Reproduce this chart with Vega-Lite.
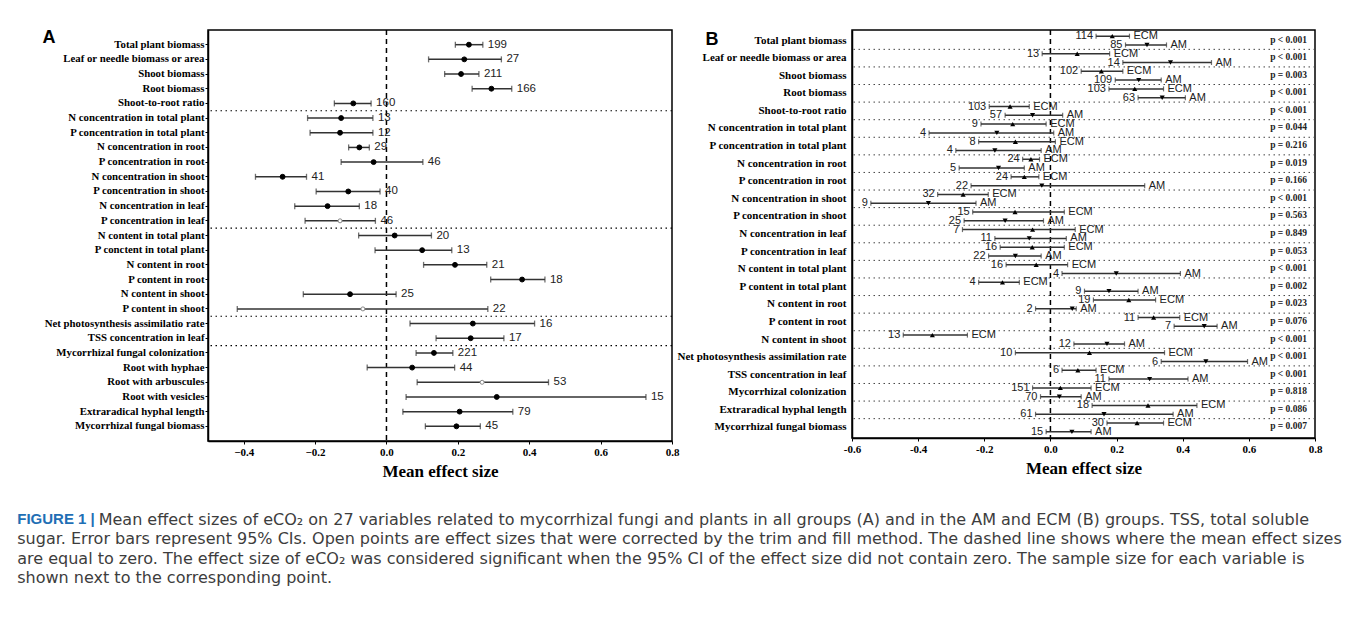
{
  "$schema": "https://vega.github.io/schema/vega-lite/v6.json",
  "background": "white",
  "padding": {"left": 17, "top": 27, "right": 0, "bottom": 0},
  "config": {
    "view": {"stroke": "black", "strokeWidth": 1.5},
    "axis": {"grid": false, "domainColor": "black", "tickColor": "black", "domainWidth": 1.5, "labelOverlap": false}
  },
  "title": {
    "text": "FIGURE 1 |",
    "subtitle": [
      "\u200b\u2007\u2007\u2007\u2007\u2007\u2007\u2007\u2007Mean effect sizes of eCO₂ on 27 variables related to mycorrhizal fungi and plants in all groups (A) and in the AM and ECM (B) groups. TSS, total soluble",
      "sugar. Error bars represent 95% CIs. Open points are effect sizes that were corrected by the trim and fill method. The dashed line shows where the mean effect sizes",
      "are equal to zero. The effect size of eCO₂ was considered significant when the 95% CI of the effect size did not contain zero. The sample size for each variable is",
      "shown next to the corresponding point."
    ],
    "orient": "bottom", "anchor": "start", "frame": "bounds",
    "dx": -24, "offset": 32,
    "font": "Liberation Sans", "fontSize": 15, "fontWeight": "bold", "color": "#1f6fb5",
    "subtitleFont": "DejaVu Sans", "subtitleFontSize": 16, "subtitleFontWeight": "normal", "subtitleColor": "#3d3d3d",
    "subtitleLineHeight": 19.4, "subtitlePadding": -15
  },
  "datasets": {
    "A": [
      {"variable": "Total plant biomass", "est": 0.231, "lo": 0.193, "hi": 0.270, "n": 199, "type": "filled"},
      {"variable": "Leaf or needle biomass or area", "est": 0.218, "lo": 0.118, "hi": 0.322, "n": 27, "type": "filled"},
      {"variable": "Shoot biomass", "est": 0.209, "lo": 0.163, "hi": 0.259, "n": 211, "type": "filled"},
      {"variable": "Root biomass", "est": 0.294, "lo": 0.240, "hi": 0.351, "n": 166, "type": "filled"},
      {"variable": "Shoot-to-root ratio", "est": -0.093, "lo": -0.146, "hi": -0.043, "n": 160, "type": "filled"},
      {"variable": "N concentration in total plant", "est": -0.127, "lo": -0.221, "hi": -0.038, "n": 13, "type": "filled"},
      {"variable": "P concentration in total plant", "est": -0.130, "lo": -0.214, "hi": -0.038, "n": 12, "type": "filled"},
      {"variable": "N concentration in root", "est": -0.076, "lo": -0.106, "hi": -0.048, "n": 29, "type": "filled"},
      {"variable": "P concentration in root", "est": -0.036, "lo": -0.127, "hi": 0.102, "n": 46, "type": "filled"},
      {"variable": "N concentration in shoot", "est": -0.291, "lo": -0.367, "hi": -0.224, "n": 41, "type": "filled"},
      {"variable": "P concentration in shoot", "est": -0.107, "lo": -0.197, "hi": -0.018, "n": 40, "type": "filled"},
      {"variable": "N concentration in leaf", "est": -0.165, "lo": -0.257, "hi": -0.076, "n": 18, "type": "filled"},
      {"variable": "P concentration in leaf", "est": -0.130, "lo": -0.228, "hi": -0.031, "n": 46, "type": "open"},
      {"variable": "N content in total plant", "est": 0.023, "lo": -0.078, "hi": 0.126, "n": 20, "type": "filled"},
      {"variable": "P conctent in total plant", "est": 0.100, "lo": -0.032, "hi": 0.183, "n": 13, "type": "filled"},
      {"variable": "N content in root", "est": 0.192, "lo": 0.104, "hi": 0.281, "n": 21, "type": "filled"},
      {"variable": "P content in root", "est": 0.380, "lo": 0.292, "hi": 0.444, "n": 18, "type": "filled"},
      {"variable": "N content in shoot", "est": -0.102, "lo": -0.233, "hi": 0.027, "n": 25, "type": "filled"},
      {"variable": "P content in shoot", "est": -0.066, "lo": -0.418, "hi": 0.284, "n": 22, "type": "open"},
      {"variable": "Net photosynthesis assimilatio rate", "est": 0.242, "lo": 0.066, "hi": 0.415, "n": 16, "type": "filled"},
      {"variable": "TSS concentration in leaf", "est": 0.236, "lo": 0.139, "hi": 0.329, "n": 17, "type": "filled"},
      {"variable": "Mycorrhizal fungal colonization", "est": 0.133, "lo": 0.083, "hi": 0.186, "n": 221, "type": "filled"},
      {"variable": "Root with hyphae", "est": 0.072, "lo": -0.054, "hi": 0.191, "n": 44, "type": "filled"},
      {"variable": "Root with arbuscules", "est": 0.268, "lo": 0.086, "hi": 0.454, "n": 53, "type": "open"},
      {"variable": "Root with vesicles", "est": 0.309, "lo": 0.055, "hi": 0.727, "n": 15, "type": "filled"},
      {"variable": "Extraradical hyphal length", "est": 0.205, "lo": 0.046, "hi": 0.354, "n": 79, "type": "filled"},
      {"variable": "Mycorrhizal fungal biomass", "est": 0.196, "lo": 0.109, "hi": 0.263, "n": 45, "type": "filled"}
    ],
    "sepA": [
      {"variable": "N concentration in total plant"},
      {"variable": "N content in total plant"},
      {"variable": "Net photosynthesis assimilatio rate"},
      {"variable": "Mycorrhizal fungal colonization"}
    ],
    "B": [
      {"variable": "Total plant biomass", "group": "ECM", "est": 0.187, "lo": 0.138, "hi": 0.239, "n": 114},
      {"variable": "Total plant biomass", "group": "AM", "est": 0.292, "lo": 0.227, "hi": 0.351, "n": 85},
      {"variable": "Leaf or needle biomass or area", "group": "ECM", "est": 0.081, "lo": -0.025, "hi": 0.179, "n": 13},
      {"variable": "Leaf or needle biomass or area", "group": "AM", "est": 0.363, "lo": 0.219, "hi": 0.487, "n": 14},
      {"variable": "Shoot biomass", "group": "ECM", "est": 0.154, "lo": 0.093, "hi": 0.219, "n": 102},
      {"variable": "Shoot biomass", "group": "AM", "est": 0.267, "lo": 0.196, "hi": 0.335, "n": 109},
      {"variable": "Root biomass", "group": "ECM", "est": 0.255, "lo": 0.177, "hi": 0.342, "n": 103},
      {"variable": "Root biomass", "group": "AM", "est": 0.338, "lo": 0.265, "hi": 0.408, "n": 63},
      {"variable": "Shoot-to-root ratio", "group": "ECM", "est": -0.122, "lo": -0.185, "hi": -0.064, "n": 103},
      {"variable": "Shoot-to-root ratio", "group": "AM", "est": -0.054, "lo": -0.137, "hi": 0.037, "n": 57},
      {"variable": "N concentration in total plant", "group": "ECM", "est": -0.114, "lo": -0.210, "hi": -0.013, "n": 9},
      {"variable": "N concentration in total plant", "group": "AM", "est": -0.162, "lo": -0.367, "hi": 0.010, "n": 4},
      {"variable": "P concentration in total plant", "group": "ECM", "est": -0.106, "lo": -0.217, "hi": 0.015, "n": 8},
      {"variable": "P concentration in total plant", "group": "AM", "est": -0.168, "lo": -0.286, "hi": -0.028, "n": 4},
      {"variable": "N concentration in root", "group": "ECM", "est": -0.059, "lo": -0.084, "hi": -0.033, "n": 24},
      {"variable": "N concentration in root", "group": "AM", "est": -0.157, "lo": -0.276, "hi": -0.079, "n": 5},
      {"variable": "P concentration in root", "group": "ECM", "est": -0.079, "lo": -0.119, "hi": -0.035, "n": 24},
      {"variable": "P concentration in root", "group": "AM", "est": -0.026, "lo": -0.240, "hi": 0.285, "n": 22},
      {"variable": "N concentration in shoot", "group": "ECM", "est": -0.264, "lo": -0.341, "hi": -0.188, "n": 32},
      {"variable": "N concentration in shoot", "group": "AM", "est": -0.369, "lo": -0.543, "hi": -0.225, "n": 9},
      {"variable": "P concentration in shoot", "group": "ECM", "est": -0.107, "lo": -0.235, "hi": 0.042, "n": 15},
      {"variable": "P concentration in shoot", "group": "AM", "est": -0.137, "lo": -0.261, "hi": -0.021, "n": 25},
      {"variable": "N concentration in leaf", "group": "ECM", "est": -0.054, "lo": -0.266, "hi": 0.075, "n": 7},
      {"variable": "N concentration in leaf", "group": "AM", "est": -0.064, "lo": -0.168, "hi": 0.048, "n": 11},
      {"variable": "P concentration in leaf", "group": "ECM", "est": -0.055, "lo": -0.152, "hi": 0.042, "n": 16},
      {"variable": "P concentration in leaf", "group": "AM", "est": -0.106, "lo": -0.187, "hi": -0.028, "n": 22},
      {"variable": "N content in total plant", "group": "ECM", "est": -0.043, "lo": -0.134, "hi": 0.052, "n": 16},
      {"variable": "N content in total plant", "group": "AM", "est": 0.199, "lo": 0.035, "hi": 0.393, "n": 4},
      {"variable": "P content in total plant", "group": "ECM", "est": -0.145, "lo": -0.217, "hi": -0.094, "n": 4},
      {"variable": "P content in total plant", "group": "AM", "est": 0.177, "lo": 0.103, "hi": 0.265, "n": 9},
      {"variable": "N content in root", "group": "ECM", "est": 0.237, "lo": 0.130, "hi": 0.318, "n": 19},
      {"variable": "N content in root", "group": "AM", "est": 0.066, "lo": -0.045, "hi": 0.078, "n": 2},
      {"variable": "P content in root", "group": "ECM", "est": 0.312, "lo": 0.265, "hi": 0.391, "n": 11},
      {"variable": "P content in root", "group": "AM", "est": 0.465, "lo": 0.374, "hi": 0.504, "n": 7},
      {"variable": "N content in shoot", "group": "ECM", "est": -0.357, "lo": -0.445, "hi": -0.251, "n": 13},
      {"variable": "N content in shoot", "group": "AM", "est": 0.171, "lo": 0.071, "hi": 0.224, "n": 12},
      {"variable": "Net photosynthesis assimilation rate", "group": "ECM", "est": 0.118, "lo": -0.106, "hi": 0.345, "n": 10},
      {"variable": "Net photosynthesis assimilation rate", "group": "AM", "est": 0.470, "lo": 0.335, "hi": 0.596, "n": 6},
      {"variable": "TSS concentration in leaf", "group": "ECM", "est": 0.083, "lo": 0.035, "hi": 0.138, "n": 6},
      {"variable": "TSS concentration in leaf", "group": "AM", "est": 0.300, "lo": 0.177, "hi": 0.416, "n": 11},
      {"variable": "Mycorrhizal colonization", "group": "ECM", "est": 0.030, "lo": -0.054, "hi": 0.123, "n": 151},
      {"variable": "Mycorrhizal colonization", "group": "AM", "est": 0.027, "lo": -0.030, "hi": 0.093, "n": 70},
      {"variable": "Extraradical hyphal length", "group": "ECM", "est": 0.295, "lo": 0.126, "hi": 0.443, "n": 18},
      {"variable": "Extraradical hyphal length", "group": "AM", "est": 0.162, "lo": -0.045, "hi": 0.371, "n": 61},
      {"variable": "Mycorrhizal fungal biomass", "group": "ECM", "est": 0.262, "lo": 0.171, "hi": 0.342, "n": 30},
      {"variable": "Mycorrhizal fungal biomass", "group": "AM", "est": 0.065, "lo": -0.013, "hi": 0.123, "n": 15}
    ],
    "pB": [
      {"variable": "Total plant biomass", "p": "p < 0.001"},
      {"variable": "Leaf or needle biomass or area", "p": "p < 0.001"},
      {"variable": "Shoot biomass", "p": "p = 0.003"},
      {"variable": "Root biomass", "p": "p < 0.001"},
      {"variable": "Shoot-to-root ratio", "p": "p < 0.001"},
      {"variable": "N concentration in total plant", "p": "p = 0.044"},
      {"variable": "P concentration in total plant", "p": "p = 0.216"},
      {"variable": "N concentration in root", "p": "p = 0.019"},
      {"variable": "P concentration in root", "p": "p = 0.166"},
      {"variable": "N concentration in shoot", "p": "p < 0.001"},
      {"variable": "P concentration in shoot", "p": "p = 0.563"},
      {"variable": "N concentration in leaf", "p": "p = 0.849"},
      {"variable": "P concentration in leaf", "p": "p = 0.053"},
      {"variable": "N content in total plant", "p": "p < 0.001"},
      {"variable": "P content in total plant", "p": "p = 0.002"},
      {"variable": "N content in root", "p": "p = 0.023"},
      {"variable": "P content in root", "p": "p = 0.076"},
      {"variable": "N content in shoot", "p": "p < 0.001"},
      {"variable": "Net photosynthesis assimilation rate", "p": "p < 0.001"},
      {"variable": "TSS concentration in leaf", "p": "p < 0.001"},
      {"variable": "Mycorrhizal colonization", "p": "p = 0.818"},
      {"variable": "Extraradical hyphal length", "p": "p = 0.086"},
      {"variable": "Mycorrhizal fungal biomass", "p": "p = 0.007"}
    ]
  },
  "spacing": 180,
  "bounds": "flush",
  "hconcat": [
    {
      "width": 464,
      "height": 411,
      "data": {"name": "A"},
      "layer": [
        {
          "data": {"name": "sepA"},
          "mark": {"type": "rule", "color": "black", "strokeWidth": 1.2, "strokeDash": [1.5, 3.5]},
          "encoding": {"y": {"field": "variable", "type": "nominal", "bandPosition": 0}}
        },
        {
          "data": {"values": [{"zero": 0}]},
          "mark": {"type": "rule", "color": "black", "strokeWidth": 1.5, "strokeDash": [5, 4]},
          "encoding": {"x": {"field": "zero", "type": "quantitative"}}
        },
        {
          "mark": {"type": "rule", "color": "#333", "strokeWidth": 1.5},
          "encoding": {
            "x": {
              "field": "lo", "type": "quantitative",
              "scale": {"domain": [-0.5, 0.8], "nice": false, "zero": false},
              "axis": {
                "title": "Mean effect size",
                "values": [-0.4, -0.2, 0, 0.2, 0.4, 0.6, 0.8],
                "format": ".1f",
                "labelOverlap": false, "labelBound": false,
                "tickSize": 3, "labelPadding": 2, "labelFlush": false,
                "labelFont": "Liberation Serif", "labelFontWeight": "bold", "labelFontSize": 11, "labelColor": "black",
                "titleFont": "Liberation Serif", "titleFontWeight": "bold", "titleFontSize": 17, "titleColor": "black", "titlePadding": 6
              }
            },
            "x2": {"field": "hi"},
            "y": {
              "field": "variable", "type": "nominal",
              "scale": {
                "domain": ["Total plant biomass", "Leaf or needle biomass or area", "Shoot biomass", "Root biomass", "Shoot-to-root ratio", "N concentration in total plant", "P concentration in total plant", "N concentration in root", "P concentration in root", "N concentration in shoot", "P concentration in shoot", "N concentration in leaf", "P concentration in leaf", "N content in total plant", "P conctent in total plant", "N content in root", "P content in root", "N content in shoot", "P content in shoot", "Net photosynthesis assimilatio rate", "TSS concentration in leaf", "Mycorrhizal fungal colonization", "Root with hyphae", "Root with arbuscules", "Root with vesicles", "Extraradical hyphal length", "Mycorrhizal fungal biomass"],
                "paddingInner": 0, "paddingOuter": 0.5
              },
              "axis": {
                "title": "A", "titleAngle": 0, "titleAlign": "left", "titleBaseline": "top", "titleX": -166, "titleY": -2,
                "titleFont": "Liberation Sans", "titleFontSize": 18, "titleFontWeight": "bold", "titleColor": "black",
                "labelFont": "Liberation Serif", "labelFontWeight": "bold", "labelFontSize": 10.8, "labelColor": "black",
                "tickSize": 3, "labelPadding": 1, "labelOverlap": false
              }
            }
          }
        },
        {
          "mark": {"type": "tick", "orient": "vertical", "size": 6, "thickness": 1.3, "color": "#333"},
          "encoding": {"x": {"field": "lo", "type": "quantitative"}, "y": {"field": "variable", "type": "nominal"}}
        },
        {
          "mark": {"type": "tick", "orient": "vertical", "size": 6, "thickness": 1.3, "color": "#333"},
          "encoding": {"x": {"field": "hi", "type": "quantitative"}, "y": {"field": "variable", "type": "nominal"}}
        },
        {
          "mark": {"type": "point", "shape": "circle", "opacity": 1, "strokeWidth": 1},
          "encoding": {
            "x": {"field": "est", "type": "quantitative"},
            "y": {"field": "variable", "type": "nominal"},
            "fill": {"field": "type", "type": "nominal", "scale": {"domain": ["filled", "open"], "range": ["black", "white"]}, "legend": null},
            "stroke": {"field": "type", "type": "nominal", "scale": {"domain": ["filled", "open"], "range": ["black", "#888"]}, "legend": null},
            "size": {"field": "type", "type": "nominal", "scale": {"domain": ["filled", "open"], "range": [24, 16]}, "legend": null}
          }
        },
        {
          "mark": {"type": "text", "align": "left", "baseline": "middle", "dx": 5, "font": "Liberation Sans", "fontSize": 11.5, "color": "#222"},
          "encoding": {
            "x": {"field": "hi", "type": "quantitative"},
            "y": {"field": "variable", "type": "nominal"},
            "text": {"field": "n", "type": "quantitative"}
          }
        }
      ]
    },
    {
      "width": 463,
      "height": 408,
      "data": {"name": "B"},
      "layer": [
        {
          "data": {"name": "pB"},
          "transform": [{"filter": "datum.variable != 'Total plant biomass'"}],
          "mark": {"type": "rule", "color": "#444", "strokeWidth": 1, "strokeDash": [1.5, 3.5]},
          "encoding": {"y": {"field": "variable", "type": "nominal", "bandPosition": 0}}
        },
        {
          "data": {"values": [{"zero": 0}]},
          "mark": {"type": "rule", "color": "black", "strokeWidth": 1.5, "strokeDash": [5, 4]},
          "encoding": {"x": {"field": "zero", "type": "quantitative"}}
        },
        {
          "mark": {"type": "rule", "color": "#333", "strokeWidth": 1.5},
          "encoding": {
            "x": {
              "field": "lo", "type": "quantitative",
              "scale": {"domain": [-0.6, 0.8], "nice": false, "zero": false},
              "axis": {
                "title": "Mean effect size",
                "values": [-0.6, -0.5, -0.4, -0.3, -0.2, -0.1, 0, 0.1, 0.2, 0.3, 0.4, 0.5, 0.6, 0.7, 0.8],
                "labelExpr": "abs(round(datum.value*10)) % 2 == 0 ? replace(format(datum.value, '.1f'), '−', '-') : ''",
                "labelOverlap": false, "labelBound": false,
                "tickSize": 3, "labelPadding": 2, "labelFlush": false,
                "labelFont": "Liberation Serif", "labelFontWeight": "bold", "labelFontSize": 11, "labelColor": "black",
                "titleFont": "Liberation Serif", "titleFontWeight": "bold", "titleFontSize": 17, "titleColor": "black", "titlePadding": 6
              }
            },
            "x2": {"field": "hi"},
            "y": {
              "field": "variable", "type": "nominal",
              "scale": {
                "domain": ["Total plant biomass", "Leaf or needle biomass or area", "Shoot biomass", "Root biomass", "Shoot-to-root ratio", "N concentration in total plant", "P concentration in total plant", "N concentration in root", "P concentration in root", "N concentration in shoot", "P concentration in shoot", "N concentration in leaf", "P concentration in leaf", "N content in total plant", "P content in total plant", "N content in root", "P content in root", "N content in shoot", "Net photosynthesis assimilation rate", "TSS concentration in leaf", "Mycorrhizal colonization", "Extraradical hyphal length", "Mycorrhizal fungal biomass"],
                "paddingInner": 0, "paddingOuter": 0.1
              },
              "axis": {
                "title": "B", "titleAngle": 0, "titleAlign": "left", "titleBaseline": "top", "titleX": -147, "titleY": 0,
                "titleFont": "Liberation Sans", "titleFontSize": 18, "titleFontWeight": "bold", "titleColor": "black",
                "labelFont": "Liberation Serif", "labelFontWeight": "bold", "labelFontSize": 11, "labelColor": "black",
                "ticks": false, "tickSize": 0, "labelPadding": 6, "labelOverlap": false
              }
            },
            "yOffset": {"field": "group", "type": "nominal", "scale": {"domain": ["ECM", "AM"], "paddingInner": 0, "paddingOuter": 0}}
          }
        },
        {
          "mark": {"type": "tick", "orient": "vertical", "size": 5, "thickness": 1.2, "color": "#333"},
          "encoding": {"x": {"field": "lo", "type": "quantitative"}, "y": {"field": "variable", "type": "nominal"}, "yOffset": {"field": "group", "type": "nominal"}}
        },
        {
          "mark": {"type": "tick", "orient": "vertical", "size": 5, "thickness": 1.2, "color": "#333"},
          "encoding": {"x": {"field": "hi", "type": "quantitative"}, "y": {"field": "variable", "type": "nominal"}, "yOffset": {"field": "group", "type": "nominal"}}
        },
        {
          "mark": {"type": "point", "filled": true, "opacity": 1, "size": 26, "color": "black"},
          "encoding": {
            "x": {"field": "est", "type": "quantitative"},
            "y": {"field": "variable", "type": "nominal"},
            "yOffset": {"field": "group", "type": "nominal"},
            "shape": {"field": "group", "type": "nominal", "scale": {"domain": ["ECM", "AM"], "range": ["triangle-up", "triangle-down"]}, "legend": null}
          }
        },
        {
          "mark": {"type": "text", "align": "right", "baseline": "middle", "dx": -3, "font": "Liberation Sans", "fontSize": 11, "color": "#222"},
          "encoding": {
            "x": {"field": "lo", "type": "quantitative"},
            "y": {"field": "variable", "type": "nominal"},
            "yOffset": {"field": "group", "type": "nominal"},
            "text": {"field": "n", "type": "quantitative"}
          }
        },
        {
          "mark": {"type": "text", "align": "left", "baseline": "middle", "dx": 4, "font": "Liberation Sans", "fontSize": 11, "color": "#222"},
          "encoding": {
            "x": {"field": "hi", "type": "quantitative"},
            "y": {"field": "variable", "type": "nominal"},
            "yOffset": {"field": "group", "type": "nominal"},
            "text": {"field": "group", "type": "nominal"}
          }
        },
        {
          "data": {"name": "pB"},
          "mark": {"type": "text", "align": "right", "baseline": "middle", "dx": -8, "dy": -1, "font": "Liberation Serif", "fontWeight": "bold", "fontSize": 9.5, "color": "#222"},
          "encoding": {
            "x": {"datum": 0.8, "type": "quantitative"},
            "y": {"field": "variable", "type": "nominal"},
            "text": {"field": "p", "type": "nominal"}
          }
        }
      ]
    }
  ]
}
